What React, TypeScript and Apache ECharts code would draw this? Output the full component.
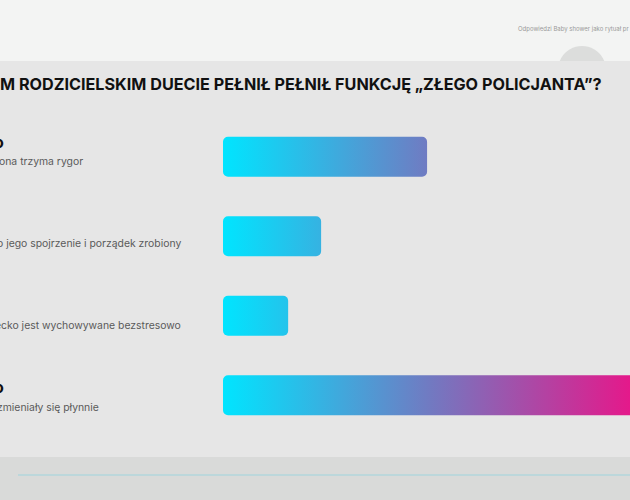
import {useEffect, useRef} from "react";
import * as echarts from "echarts";

const categories = [
    "ona trzyma rygor",
    "o jego spojrzenie i porządek zrobiony",
    "ecko jest wychowywane bezstresowo",
    "zmieniały się płynnie",
];
const boldLabels = ["o", "", "", "o"];
const values = [26, 12.5, 8.3, 53.2];
const title = "M RODZICIELSKIM DUECIE PEŁNIŁ PEŁNIŁ FUNKCJĘ „ZŁEGO POLICJANTA”?";
const breadcrumb = "Odpowiedzi Baby shower jako rytuał pr";

const FONT = "Inter, 'Noto Sans', sans-serif";
const ROW_TOP = 117;
const ROW_H = 79.5;
// the texts on the left run on a slightly looser rhythm than the bars
const TEXT_TOP = 156;
const TEXT_STEP = 82;
const TEXT_SHIFT = [-1, -3, -5, -3];

export default function App() {
    const domRef = useRef<HTMLDivElement>(null);

    useEffect(() => {
        document.body.style.margin = "0";
        document.body.style.overflow = "hidden";
        if (!domRef.current) return;
        const chart = echarts.init(domRef.current, null, {renderer: "svg"});

        const gradient = new echarts.graphic.LinearGradient(223, 0, 640, 0, [
            {offset: 0, color: "#00e5ff"},
            {offset: 0.5, color: "#7279c1"},
            {offset: 1, color: "#ea1488"},
        ], true);

        const rowTexts: any[] = [];
        categories.forEach((c, i) => {
            const ty = TEXT_TOP + TEXT_STEP * i;
            if (boldLabels[i]) {
                rowTexts.push({
                    type: "text", z: 10, left: -6, top: ty - 22 - i * 0.2,
                    style: {text: boldLabels[i], font: `bold 16px ${FONT}`, fill: "#111"},
                });
            }
            rowTexts.push({
                type: "text", z: 10, left: TEXT_SHIFT[i], top: ty,
                style: {text: c, font: `10.4px ${FONT}`, fill: "#5a5a5a"},
            });
        });

        chart.setOption({
            animation: false,
            backgroundColor: "#e6e6e6",
            // the chart runs on past the right edge of the window, so the longest bar is cut off there
            grid: {left: 223, top: ROW_TOP, right: 0, height: ROW_H * 4},
            xAxis: {type: "value", min: 0, max: 54.4, show: false},
            yAxis: {type: "category", data: categories, inverse: true, show: false},
            series: [{
                type: "bar",
                data: values,
                barWidth: 40,
                itemStyle: {color: gradient, borderRadius: 5},
                silent: true,
            }],
            graphic: [
                {type: "rect", z: -3, shape: {x: 0, y: 0, width: 650, height: 61}, style: {fill: "#f3f4f3"}},
                {type: "circle", z: -2, shape: {cx: 582, cy: 70, r: 24}, style: {fill: "#dcdddc"}},
                {type: "rect", z: -1, shape: {x: 0, y: 61, width: 650, height: 396}, style: {fill: "#e6e6e6"}},
                {type: "rect", z: -1, shape: {x: 0, y: 457, width: 650, height: 43}, style: {fill: "#d9dad9"}},
                {type: "line", z: 0, shape: {x1: 18, y1: 475, x2: 650, y2: 475}, style: {stroke: "#9fd4dd", lineWidth: 1.2}},
                {
                    type: "text", z: 10, left: 518, top: 25,
                    style: {text: breadcrumb, font: `6px ${FONT}`, fill: "#9a9a9a"},
                },
                {
                    type: "text", z: 10, left: 0, top: 76,
                    style: {text: title, font: `bold 16.2px ${FONT}`, fill: "#111"},
                },
                ...rowTexts,
            ],
        });

        return () => chart.dispose();
    }, []);

    return <div ref={domRef} style={{width: 650, height: 500}} />;
}
